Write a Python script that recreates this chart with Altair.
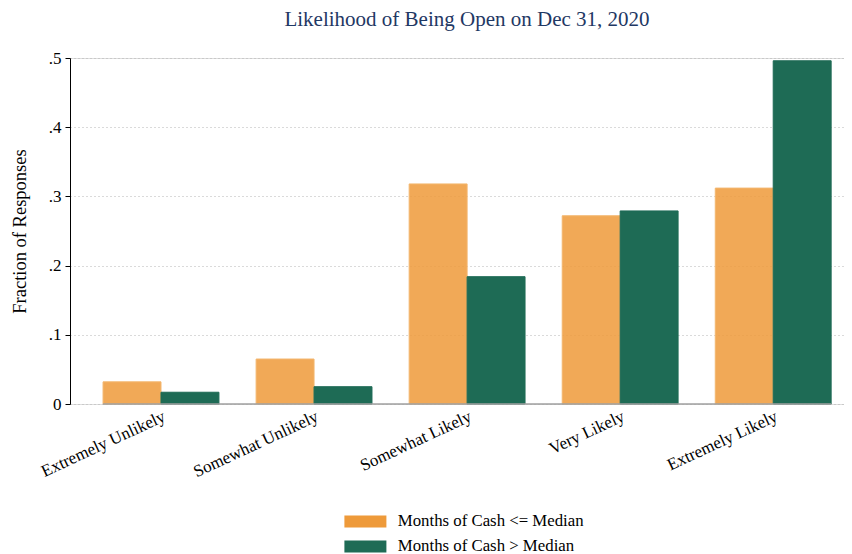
import altair as alt
import pandas as pd

categories = ["Extremely Unlikely", "Somewhat Unlikely", "Somewhat Likely", "Very Likely", "Extremely Likely"]
series = ["Months of Cash <= Median", "Months of Cash > Median"]
below_median = [0.032, 0.065, 0.318, 0.272, 0.312]
above_median = [0.017, 0.025, 0.184, 0.279, 0.496]
y_ticks = [0, 0.1, 0.2, 0.3, 0.4, 0.5]

rows = []
for c, v in zip(categories, below_median):
    rows.append({"cat": c, "grp": series[0], "val": v})
for c, v in zip(categories, above_median):
    rows.append({"cat": c, "grp": series[1], "val": v})
df = pd.DataFrame(rows)

FONT = "Liberation Serif"

xscale = alt.Scale(domain=categories, paddingInner=0.243, paddingOuter=0.15, align=0.72)

bars = alt.Chart(df).mark_bar(strokeWidth=1).encode(
    x=alt.X("cat:N", sort=categories, scale=xscale, title=None,
            axis=alt.Axis(labelAngle=-25, labelFontSize=17, labelFont=FONT, labelColor="black",
                          ticks=False, domain=False, labelPadding=4, grid=False, labelLimit=300)),
    xOffset=alt.XOffset("grp:N", sort=series, scale=alt.Scale(domain=series, paddingInner=0, paddingOuter=0)),
    y=alt.Y("val:Q", scale=alt.Scale(domain=[0, 0.5], nice=False),
            title="Fraction of Responses",
            axis=alt.Axis(values=y_ticks,
                          labelExpr="datum.value == 0 ? '0' : replace(format(datum.value, '.1f'), '0.', '.')",
                          labelFontSize=17, labelFont=FONT, labelColor="black",
                          titleFont=FONT, titleFontSize=18.5, titleFontWeight="normal", titleColor="black",
                          titlePadding=19, labelPadding=4,
                          domainColor="black", tickColor="black", tickSize=5, domainWidth=1,
                          grid=True, gridColor="#b4b4b4", gridDash=[1, 3], gridWidth=1)),
    color=alt.Color("grp:N", sort=series,
                    scale=alt.Scale(domain=series, range=["#EE9A3A", "#1E6B55"]),
                    legend=alt.Legend(title=None, orient="none", legendX=272, legendY=455,
                                      direction="vertical", labelFont=FONT, labelFontSize=16.8,
                                      labelColor="black", symbolType="M-1,-1L6,-1L6,1L-1,1Z",
                                      symbolSize=144, symbolStrokeWidth=0, symbolOpacity=1,
                                      labelOffset=39, rowPadding=7, padding=0, labelLimit=400)),
    stroke=alt.Color("grp:N", sort=series,
                     scale=alt.Scale(domain=series, range=["#F3B66E", "#1E6B55"]), legend=None),
    fillOpacity=alt.FillOpacity("grp:N", sort=series,
                                scale=alt.Scale(domain=series, range=[0.85, 1.0]), legend=None),
)

base_df = pd.DataFrame({"start": [categories[0]], "end": [categories[-1]], "y": [0.0]})
baseline = alt.Chart(base_df).mark_rule(color="#a0a0a0", strokeWidth=1.5).encode(
    x=alt.X("start:N", scale=xscale, bandPosition=0),
    x2=alt.X2("end:N", bandPosition=1),
    y=alt.Y("y:Q"),
)

chart = alt.layer(bars, baseline).properties(
    width=774, height=346,
    title=alt.TitleParams("Likelihood of Being Open on Dec 31, 2020", font=FONT, fontSize=21,
                          fontWeight="normal", color="#1F3864", anchor="middle", dx=10, offset=19),
    autosize=alt.AutoSizeParams(type="none"),
    padding={"left": 62, "top": 50, "right": 0, "bottom": 150},
).configure_view(stroke=None).configure(background="white")

chart.save("out.html", embed_options={"renderer": "svg", "actions": False})
